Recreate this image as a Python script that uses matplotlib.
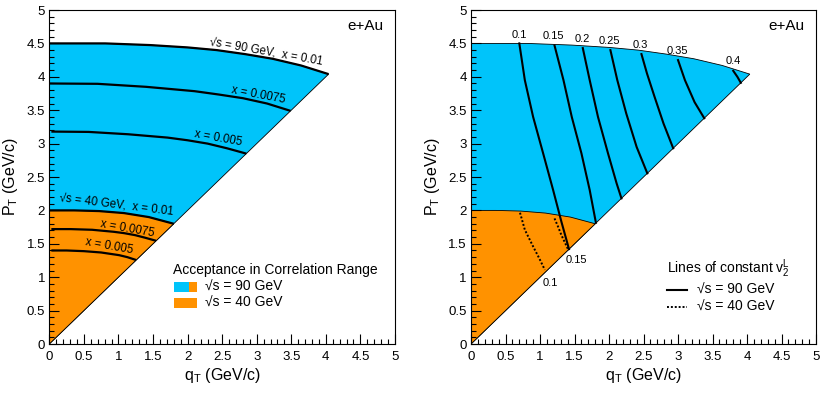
import matplotlib
matplotlib.use("Agg")
import matplotlib.pyplot as plt
from matplotlib.patches import Polygon, Rectangle
import numpy as np

plt.rcParams['font.family'] = ['Liberation Sans', 'DejaVu Sans']
plt.rcParams['mathtext.fontset'] = 'custom'
plt.rcParams['mathtext.rm'] = 'Liberation Sans'
plt.rcParams['mathtext.it'] = 'Liberation Sans:italic'

BLUE = '#00C4FA'
ORANGE = '#FF9200'

# ---- acceptance curves (qT, PT) ----
qt_90_x010 = [0.00, 0.81, 1.46, 2.00, 2.42, 2.83, 3.23, 3.64, 4.04]
pt_90_x010 = [4.50, 4.50, 4.475, 4.44, 4.40, 4.34, 4.27, 4.17, 4.04]
qt_90_x0075 = [0.00, 0.70, 1.40, 2.10, 2.45, 2.80, 3.15, 3.49]
pt_90_x0075 = [3.90, 3.895, 3.85, 3.785, 3.735, 3.68, 3.60, 3.49]
qt_90_x005 = [0.03, 0.57, 1.14, 1.71, 2.00, 2.29, 2.57, 2.85]
pt_90_x005 = [3.18, 3.175, 3.14, 3.09, 3.05, 3.00, 2.93, 2.85]

qt_40_x010 = [0.00, 0.36, 0.72, 1.08, 1.26, 1.44, 1.62, 1.80]
pt_40_x010 = [2.00, 2.00, 1.99, 1.96, 1.93, 1.90, 1.85, 1.80]
qt_40_x0075 = [0.03, 0.31, 0.62, 0.93, 1.08, 1.24, 1.39, 1.545]
pt_40_x0075 = [1.72, 1.72, 1.71, 1.68, 1.66, 1.63, 1.59, 1.545]
qt_40_x005 = [0.03, 0.25, 0.50, 0.75, 0.88, 1.01, 1.13, 1.257]
pt_40_x005 = [1.40, 1.40, 1.39, 1.37, 1.35, 1.33, 1.30, 1.257]

curve_labels_90 = ['√s = 90 GeV,  x = 0.01', 'x = 0.0075', 'x = 0.005']
curve_labels_40 = ['√s = 40 GeV,  x = 0.01', 'x = 0.0075', 'x = 0.005']
label_pos_90 = [(3.14, 4.375), (3.02, 3.73), (2.45, 3.085)]
label_pos_40 = [(0.975, 2.09), (1.13, 1.73), (0.86, 1.465)]
label_rot_90 = [-10, -10.5, -10]
label_rot_40 = [-7, -10, -10]

# ---- lines of constant v2 (90 GeV, solid) ----
v2_values_90 = ['0.1', '0.15', '0.2', '0.25', '0.3', '0.35', '0.4']
v2_qt_90 = [
    [0.70, 0.78, 0.90, 1.045, 1.19, 1.31, 1.42],
    [1.21, 1.34, 1.46, 1.60, 1.72, 1.81],
    [1.62, 1.72, 1.84, 1.985, 2.11, 2.18],
    [2.02, 2.12, 2.25, 2.40, 2.555],
    [2.47, 2.55, 2.66, 2.79, 2.93],
    [3.00, 3.10, 3.24, 3.38],
    [3.80, 3.86, 3.91],
]
v2_pt_90 = [
    [4.50, 3.95, 3.40, 2.855, 2.305, 1.83, 1.42],
    [4.47, 3.95, 3.40, 2.855, 2.305, 1.815],
    [4.43, 3.95, 3.40, 2.855, 2.405, 2.18],
    [4.40, 3.95, 3.45, 2.95, 2.555],
    [4.34, 4.05, 3.70, 3.30, 2.93],
    [4.25, 3.95, 3.62, 3.38],
    [4.09, 4.00, 3.91],
]
v2_label_pos_90 = [(0.70, 4.63), (1.19, 4.61), (1.61, 4.57), (2.01, 4.54),
                   (2.46, 4.48), (2.99, 4.39), (3.80, 4.23)]

# ---- lines of constant v2 (40 GeV, dotted) ----
v2_values_40 = ['0.1', '0.15']
v2_qt_40 = [[0.71, 0.78, 0.90, 0.99, 1.07], [1.21, 1.26, 1.31, 1.36, 1.41]]
v2_pt_40 = [[1.965, 1.71, 1.46, 1.28, 1.11], [1.88, 1.76, 1.63, 1.52, 1.41]]
v2_label_pos_40 = [(1.145, 0.92), (1.53, 1.26)]

ticks = [0, 0.5, 1, 1.5, 2, 2.5, 3, 3.5, 4, 4.5, 5]
tick_labels = ['0', '0.5', '1', '1.5', '2', '2.5', '3', '3.5', '4', '4.5', '5']

fig = plt.figure(figsize=(8.31, 3.94), dpi=100)
axL = fig.add_axes([0.0593, 0.1269, 0.4160, 0.8477])
axR = fig.add_axes([0.5668, 0.1269, 0.4152, 0.8477])


def region(qt, pt):
    return list(zip(qt, pt)) + [(0.0, 0.0)]


def style(ax):
    ax.set_xlim(0, 5)
    ax.set_ylim(0, 5)
    ax.set_xticks(ticks)
    ax.set_xticklabels(tick_labels)
    ax.set_yticks(ticks)
    ax.set_yticklabels(tick_labels)
    ax.set_xticks(np.arange(0, 5.01, 0.1), minor=True)
    ax.set_yticks(np.arange(0, 5.01, 0.1), minor=True)
    ax.tick_params(which='both', direction='in', top=False, right=False, labelsize=9.5)
    ax.tick_params(which='major', length=7, width=0.8)
    ax.tick_params(which='minor', length=3.5, width=0.8)
    ax.tick_params(axis='x', pad=5)
    ax.tick_params(axis='y', pad=3)
    for s in ax.spines.values():
        s.set_linewidth(0.8)
    ax.set_xlabel(r'q$_{\rm T}$ (GeV/c)', fontsize=11.5)
    ax.set_ylabel(r'P$_{\rm T}$ (GeV/c)', fontsize=11.5)
    ax.xaxis.set_label_coords(0.5, -0.066)
    ax.yaxis.set_label_coords(-0.085, 0.5)
    ax.text(0.966, 0.952, 'e+Au', transform=ax.transAxes, ha='right', va='center', fontsize=11)


for ax in (axL, axR):
    style(ax)
    ax.add_patch(Polygon(region(qt_90_x010, pt_90_x010), closed=True, facecolor=BLUE,
                         edgecolor='black', lw=0.6, zorder=1))
    ax.add_patch(Polygon(region(qt_40_x010, pt_40_x010), closed=True, facecolor=ORANGE,
                         edgecolor='black', lw=0.6, zorder=1.5))

# left panel curves
for qt, pt in [(qt_90_x010, pt_90_x010), (qt_90_x0075, pt_90_x0075), (qt_90_x005, pt_90_x005),
               (qt_40_x010, pt_40_x010), (qt_40_x0075, pt_40_x0075), (qt_40_x005, pt_40_x005)]:
    axL.plot(qt, pt, color='black', lw=1.6, zorder=3, solid_capstyle='butt')
for lab, (x, y), r in zip(curve_labels_90 + curve_labels_40, label_pos_90 + label_pos_40,
                          label_rot_90 + label_rot_40):
    axL.text(x, y, lab, rotation=r, ha='center', va='center', fontsize=8.3, zorder=4,
             rotation_mode='anchor')

# left legend
axL.text(1.79, 1.108, 'Acceptance in Correlation Range', ha='left', va='center', fontsize=10)
axL.add_patch(Rectangle((1.80, 0.774), 0.225, 0.15, facecolor=BLUE, edgecolor='none'))
axL.add_patch(Rectangle((2.025, 0.774), 0.105, 0.15, facecolor=ORANGE, edgecolor='none'))
axL.add_patch(Rectangle((1.80, 0.534), 0.33, 0.15, facecolor=ORANGE, edgecolor='none'))
axL.text(2.25, 0.853, '√s = 90 GeV', ha='left', va='center', fontsize=10)
axL.text(2.25, 0.614, '√s = 40 GeV', ha='left', va='center', fontsize=10)

# right panel lines
for qt, pt in zip(v2_qt_90, v2_pt_90):
    axR.plot(qt, pt, color='black', lw=1.5, zorder=3)
for lab, (x, y) in zip(v2_values_90, v2_label_pos_90):
    axR.text(x, y, lab, ha='center', va='center', fontsize=8)
for qt, pt in zip(v2_qt_40, v2_pt_40):
    axR.plot(qt, pt, color='black', lw=1.4, ls=(0, (1, 1)), zorder=3)
for lab, (x, y) in zip(v2_values_40, v2_label_pos_40):
    axR.text(x, y, lab, ha='center', va='center', fontsize=8)

# right legend
axR.text(2.836, 1.133, r'Lines of constant v$_2^{\rm L}$', ha='left', va='center', fontsize=10)
axR.plot([2.836, 3.126], [0.808, 0.808], color='black', lw=1.5)
axR.plot([2.836, 3.126], [0.558, 0.558], color='black', lw=1.4, ls=(0, (1, 1)))
axR.text(3.28, 0.808, '√s = 90 GeV', ha='left', va='center', fontsize=10)
axR.text(3.28, 0.558, '√s = 40 GeV', ha='left', va='center', fontsize=10)

fig.savefig('out.png', dpi=100)
